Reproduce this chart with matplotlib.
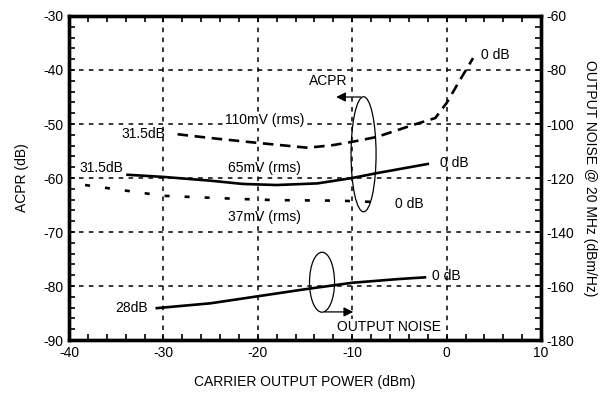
import matplotlib
matplotlib.use("Agg")
import matplotlib.pyplot as plt
from matplotlib.patches import Ellipse
from matplotlib.ticker import MultipleLocator

plt.rcParams['font.family'] = ['Liberation Sans', 'DejaVu Sans']
plt.rcParams['axes.unicode_minus'] = False

# ACPR curves (left axis, dB) vs carrier output power (dBm)
acpr_110mv_x = [-28.5, -25, -20, -14.7, -12, -10, -7.4, -3.6, -1.2, 0, 1.4, 2.8]
acpr_110mv_y = [-51.9, -52.6, -53.5, -54.4, -53.9, -53.3, -52.4, -50.2, -48.9, -46.1, -41.9, -37.8]

acpr_65mv_x = [-33.8, -30, -25, -21.6, -18, -13.7, -10, -7.4, -2.0]
acpr_65mv_y = [-59.4, -59.8, -60.5, -61.1, -61.3, -61.0, -60.0, -59.1, -57.4]

acpr_37mv_x = [-38.3, -30, -21.6, -18, -11.3, -6.7]
acpr_37mv_y = [-61.3, -63.3, -63.9, -64.1, -64.2, -64.5]

# output noise (right axis, dBm/Hz)
noise_x = [-30.7, -25, -20, -15, -10, -5, -2.3]
noise_y = [-168.2, -166.4, -163.8, -161.2, -158.8, -157.4, -156.8]

fig = plt.figure(figsize=(6.13, 3.96), dpi=100)
ax = fig.add_axes([0.1126, 0.1414, 0.77, 0.8182])
ax2 = ax.twinx()

ax.set_xlim(-40, 10)
ax.set_ylim(-90, -30)
ax2.set_ylim(-180, -60)

ax.xaxis.set_major_locator(MultipleLocator(10))
ax.xaxis.set_minor_locator(MultipleLocator(2))
ax.yaxis.set_major_locator(MultipleLocator(10))
ax.yaxis.set_minor_locator(MultipleLocator(2))
ax2.yaxis.set_major_locator(MultipleLocator(20))
ax2.yaxis.set_minor_locator(MultipleLocator(4))

for a in (ax, ax2):
    for s in a.spines.values():
        s.set_linewidth(2.4)
    a.tick_params(which='both', direction='in', length=4, width=1.2, labelsize=10)
ax.tick_params(which='both', top=True, right=False, pad=4)
ax2.tick_params(which='both', left=False, right=True, pad=4)

ax.grid(True, which='major', color='black', linewidth=1.1, linestyle=(0, (3, 3.5)))

lw = 1.9
ax.plot(acpr_110mv_x, acpr_110mv_y, color='black', linewidth=lw, linestyle=(0, (4, 2.5)))
ax.plot(acpr_65mv_x, acpr_65mv_y, color='black', linewidth=lw)
ax.plot(acpr_37mv_x, acpr_37mv_y, color='black', linewidth=lw, linestyle=(0, (1.9, 5.7)))
ax2.plot(noise_x, noise_y, color='black', linewidth=lw)

fs = 10
ax.text(-29.8, -51.9, '31.5dB', fontsize=fs, ha='right', va='center')
ax.text(-19.3, -49.3, '110mV (rms)', fontsize=fs, ha='center', va='center',
        bbox=dict(facecolor='white', edgecolor='none', pad=0.5))
ax.text(3.6, -37.2, '0 dB', fontsize=fs, ha='left', va='center')
ax.text(-34.3, -58.2, '31.5dB', fontsize=fs, ha='right', va='center')
ax.text(-19.3, -58.2, '65mV (rms)', fontsize=fs, ha='center', va='center')
ax.text(-0.7, -57.2, '0 dB', fontsize=fs, ha='left', va='center')
ax.text(-19.3, -67.3, '37mV (rms)', fontsize=fs, ha='center', va='center')
ax.text(-5.5, -64.8, '0 dB', fontsize=fs, ha='left', va='center')
ax.text(-31.6, -84.1, '28dB', fontsize=fs, ha='right', va='center')
ax.text(-1.5, -78.2, '0 dB', fontsize=fs, ha='left', va='center')
ax.text(-14.6, -42.1, 'ACPR', fontsize=fs, ha='left', va='center',
        bbox=dict(facecolor='white', edgecolor='none', pad=0.5))
ax.text(-11.6, -87.5, 'OUTPUT NOISE', fontsize=fs, ha='left', va='center',
        bbox=dict(facecolor='white', edgecolor='none', pad=0.5))

ax.add_patch(Ellipse((-8.8, -55.6), 2.65, 21.3, fill=False, edgecolor='black', linewidth=0.9))
ax.annotate('', xy=(-12.0, -45.0), xytext=(-8.8, -45.0),
            arrowprops=dict(arrowstyle='-|>', color='black', linewidth=0.9, mutation_scale=14))
ax.add_patch(Ellipse((-13.2, -79.3), 2.65, 11.1, fill=False, edgecolor='black', linewidth=0.9))
ax.annotate('', xy=(-9.6, -84.8), xytext=(-13.2, -84.8),
            arrowprops=dict(arrowstyle='-|>', color='black', linewidth=0.9, mutation_scale=14))

ax.set_xlabel('CARRIER OUTPUT POWER (dBm)', fontsize=fs, labelpad=11)
ax.set_ylabel('ACPR (dB)', fontsize=fs, labelpad=10)
ax2.set_ylabel('OUTPUT NOISE @ 20 MHz (dBm/Hz)', fontsize=fs, rotation=-90, labelpad=16)

fig.savefig('out.png', dpi=100)
